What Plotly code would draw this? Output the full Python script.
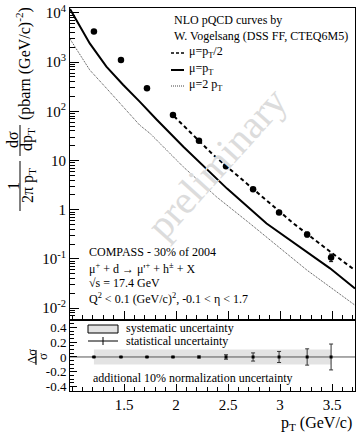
import plotly.graph_objects as go

# ---------------- data ----------------
pt_data = [1.21, 1.47, 1.72, 1.97, 2.22, 2.48, 2.74, 2.99, 3.26, 3.49]
xsec_data = [4170, 1110, 293, 84, 25.3, 7.7, 2.6, 0.885, 0.316, 0.107]
stat_rel = [0.005, 0.005, 0.006, 0.008, 0.012, 0.03, 0.055, 0.075, 0.11, 0.175]
syst_rel = [0.1, 0.1, 0.1, 0.1, 0.1, 0.1, 0.1, 0.1, 0.1, 0.1]

pt_mu1 = [0.98, 1.17, 1.33, 1.49, 1.65, 1.81, 2.07, 2.30, 2.49, 2.87, 3.20, 3.48, 3.72]
xs_mu1 = [12000, 2399, 813, 347, 158, 69, 19.1, 6.6, 2.69, 0.525, 0.166, 0.0646, 0.0251]

pt_mu05 = [1.98, 2.36, 2.62, 2.87, 3.13, 3.45, 3.72]
xs_mu05 = [79.4, 12.9, 4.37, 1.58, 0.525, 0.158, 0.0589]

pt_mu2 = [0.98, 1.17, 1.33, 1.49, 1.65, 1.75, 2.07, 2.39, 2.71, 3.26, 3.72]
xs_mu2 = [2951, 692, 295, 123, 52.5, 35.5, 7.41, 1.82, 0.525, 0.0589, 0.0115]

x_tickvals = [1.5, 2, 2.5, 3, 3.5]
x_ticktext = ["1.5", "2", "2.5", "3", "3.5"]
y_tickvals = [0.01, 0.1, 1, 10, 100, 1000, 10000]
y_ticktext = ["10<sup>-2</sup>", "10<sup>-1</sup>", "1", "10", "10<sup>2</sup>", "10<sup>3</sup>", "10<sup>4</sup>"]
r_tickvals = [-0.4, -0.2, 0, 0.2, 0.4]
r_ticktext = ["-0.4", "-0.2", "0", "0.2", "0.4"]

# ---------------- geometry helpers ----------------
W, H = 356, 433
ML, MR, MT, MB = 70, 1, 8, 42
PW, PH = W - ML - MR, H - MT - MB
SPLIT = 320
low_top = (H - MB - SPLIT) / PH

def px(x):
    return (x - ML) / PW

def py(y):
    return (H - MB - y) / PH

FONT = "Liberation Serif, Times New Roman, serif"

fig = go.Figure()

# systematic band
band_x = pt_data + pt_data[::-1]
band_y = [s for s in syst_rel] + [-s for s in syst_rel[::-1]]
fig.add_trace(go.Scatter(x=band_x, y=band_y, xaxis="x", yaxis="y", fill="toself",
                         fillcolor="#e3e3e3", line=dict(width=0), mode="lines",
                         hoverinfo="skip", showlegend=False))
# zero line
fig.add_trace(go.Scatter(x=[0.98, 3.72], y=[0, 0], xaxis="x", yaxis="y", mode="lines",
                         line=dict(color="#555555", width=1), showlegend=False))
# stat errors in ratio panel
fig.add_trace(go.Scatter(x=pt_data, y=[0] * len(pt_data), xaxis="x", yaxis="y", mode="markers",
                         marker=dict(color="black", size=3, symbol="square"),
                         error_y=dict(type="data", array=stat_rel, color="#333333", thickness=1, width=2),
                         showlegend=False))

# curves
fig.add_trace(go.Scatter(x=pt_mu2, y=xs_mu2, xaxis="x2", yaxis="y2", mode="lines",
                         line=dict(color="#444444", width=1, dash="1px,1px"), showlegend=False))
fig.add_trace(go.Scatter(x=pt_mu1, y=xs_mu1, xaxis="x2", yaxis="y2", mode="lines",
                         line=dict(color="black", width=2), showlegend=False))
fig.add_trace(go.Scatter(x=pt_mu05, y=xs_mu05, xaxis="x2", yaxis="y2", mode="lines",
                         line=dict(color="black", width=2, dash="4px,3px"), showlegend=False))
# data
fig.add_trace(go.Scatter(x=pt_data, y=xsec_data, xaxis="x2", yaxis="y2", mode="markers",
                         marker=dict(color="black", size=6.5),
                         error_y=dict(type="data", array=[v * e for v, e in zip(xsec_data, stat_rel)],
                                      color="black", thickness=1, width=2),
                         showlegend=False))

axis_common = dict(showline=True, linecolor="black", linewidth=1, mirror=True,
                   ticks="inside", tickcolor="black", showgrid=False, zeroline=False,
                   tickfont=dict(family=FONT, size=15, color="black"))

fig.update_layout(
    width=W, height=H,
    margin=dict(l=ML, r=MR, t=MT, b=MB),
    paper_bgcolor="white", plot_bgcolor="white",
    showlegend=False,
    xaxis=dict(axis_common, domain=[0, 1], anchor="y", range=[0.98, 3.72],
               tickvals=x_tickvals, ticktext=x_ticktext, ticklen=7,
               minor=dict(dtick=0.1, tick0=0, ticks="inside", ticklen=4, tickcolor="black")),
    yaxis=dict(axis_common, domain=[0, low_top], anchor="x", range=[-0.46, 0.5],
               tickvals=r_tickvals, ticktext=r_ticktext, ticklen=7,
               tickfont=dict(family=FONT, size=13, color="black"),
               minor=dict(dtick=0.05, tick0=0, ticks="inside", ticklen=4, tickcolor="black")),
    xaxis2=dict(axis_common, domain=[0, 1], anchor="y2", matches="x", range=[0.98, 3.72],
                tickvals=x_tickvals, showticklabels=False, ticklen=9,
                minor=dict(dtick=0.1, tick0=0, ticks="inside", ticklen=5, tickcolor="black")),
    yaxis2=dict(axis_common, domain=[low_top, 1], anchor="x2", type="log", range=[-2.24, 4.1],
                tickvals=y_tickvals, ticktext=y_ticktext, ticklen=9,
                minor=dict(tickvals=[m * 10 ** k for k in range(-3, 4) for m in range(2, 10)],
                           ticks="inside", ticklen=5, tickcolor="black")),
)

ann = []
shapes = []

def text(x, y, s, size=12, xanchor="left", angle=0, color="black"):
    ann.append(dict(x=px(x), y=py(y), xref="paper", yref="paper", text=s, showarrow=False,
                    xanchor=xanchor, yanchor="middle", textangle=angle,
                    font=dict(family=FONT, size=size, color=color)))

def line(x0, y0, x1, y1, color="black", width=1, dash="solid"):
    shapes.append(dict(type="line", xref="paper", yref="paper", x0=px(x0), y0=py(y0),
                       x1=px(x1), y1=py(y1), line=dict(color=color, width=width, dash=dash)))

# watermark
text(216, 163, "preliminary", size=40, xanchor="center", angle=-48, color="#dcdcdc")

# legend (main)
text(172, 20, "NLO pQCD curves by")
text(172, 36, "W. Vogelsang (DSS FF, CTEQ6M5)")
line(171, 53, 184, 53, width=1.5, dash="3px,2px")
text(187, 52, "μ=p<sub>T</sub>/2")
line(171, 70, 184, 70, width=2)
text(187, 69, "μ=p<sub>T</sub>")
line(171, 86, 184, 86, color="#444444", width=1, dash="1px,1px")
text(187, 85, "μ=2 p<sub>T</sub>")

# experiment info
text(87, 252, "COMPASS - 30% of 2004")
text(87, 268, "μ<sup>+</sup> + d → μ'<sup>+</sup> + h<sup>±</sup> + X")
text(87, 283, "√s = 17.4 GeV")
text(87, 298, "Q<sup>2</sup> &lt; 0.1 (GeV/c)<sup>2</sup>, -0.1 &lt; η &lt; 1.7")

# ratio-panel legend
shapes.append(dict(type="rect", xref="paper", yref="paper", x0=px(88), x1=px(118), y0=py(333), y1=py(325),
                   fillcolor="#e3e3e3", line=dict(color="black", width=1)))
text(124, 328, "systematic uncertainty")
line(88, 341, 118, 341)
line(103, 337, 103, 345)
text(124, 341, "statistical uncertainty")
text(91, 378, "additional 10% normalization uncertainty")

# y title (main)
TS = 16
text(13, 186, "1", size=TS, xanchor="center", angle=-90)
line(20, 161, 20, 211, width=1)
text(28, 186, "2π p<sub>T</sub>", size=TS, xanchor="center", angle=-90)
text(13, 140, "dσ", size=TS, xanchor="center", angle=-90)
line(20, 125, 20, 156, width=1)
text(28, 140, "dp<sub>T</sub>", size=TS, xanchor="center", angle=-90)
text(24, 64, "(pbarn (GeV/c)<sup>-2</sup>)", size=TS, xanchor="center", angle=-90)

# y title (ratio)
text(31, 357, "Δσ", size=13, xanchor="center", angle=-90)
line(36, 350, 36, 365, width=1)
text(42, 357, "σ", size=13, xanchor="center", angle=-90)

# x title
text(354, 423, "p<sub>T</sub> (GeV/c)", size=16, xanchor="right")

fig.update_layout(annotations=ann, shapes=shapes)
fig.write_html("out.html", config={"displayModeBar": False},
               post_script="document.body.style.margin='0';document.body.style.overflow='hidden';")
